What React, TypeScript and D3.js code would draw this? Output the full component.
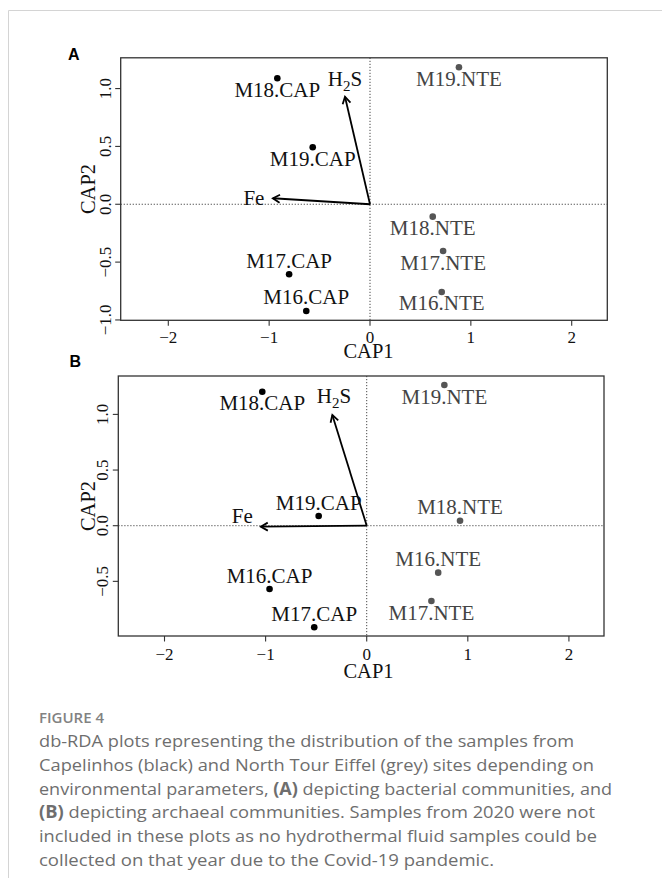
import React from "react";
import * as d3 from "d3";

// ---------- data ----------
const sampleNames = ["M16.CAP", "M17.CAP", "M18.CAP", "M19.CAP", "M16.NTE", "M17.NTE", "M18.NTE", "M19.NTE"];
const sampleSite = ["CAP", "CAP", "CAP", "CAP", "NTE", "NTE", "NTE", "NTE"];

// Panel A (bacterial)
const cap1A = [-0.632, -0.802, -0.919, -0.568, 0.711, 0.725, 0.622, 0.882];
const cap2A = [-0.922, -0.605, 1.089, 0.493, -0.758, -0.404, -0.107, 1.184];
const labelSideA = ["above", "above", "below", "below", "below", "below", "below", "below"];

// Panel B (archaeal)
const cap1B = [-0.961, -0.519, -1.033, -0.475, 0.707, 0.64, 0.923, 0.768];
const cap2B = [-0.569, -0.913, 1.204, 0.087, -0.422, -0.677, 0.045, 1.264];
const labelSideB = ["above", "above", "below", "above", "above", "below", "above", "below"];

// environmental vectors
const envNames = ["H2S", "Fe"];
const envCap1A = [-0.248, -0.963];
const envCap2A = [0.93, 0.052];
const envCap1B = [-0.34, -1.047];
const envCap2B = [0.995, -0.009];

// axes
const xTicks = [-2, -1, 0, 1, 2];
const yTicksA = [-1, -0.5, 0, 0.5, 1];
const yTicksB = [-0.5, 0, 0.5, 1];
const xLimA = [-2.472, 2.353];
const yLimA = [-1.003, 1.266];
const xLimB = [-2.457, 2.347];
const yLimB = [-0.991, 1.345];

const captionTitle = "FIGURE 4";
const captionLines = [
  [["db-RDA plots representing the distribution of the samples from", false]],
  [["Capelinhos (black) and North Tour Eiffel (grey) sites depending on", false]],
  [["environmental parameters, ", false], ["(A)", true], [" depicting bacterial communities, and", false]],
  [["(B)", true], [" depicting archaeal communities. Samples from 2020 were not", false]],
  [["included in these plots as no hydrothermal fluid samples could be", false]],
  [["collected on that year due to the Covid-19 pandemic.", false]],
] as [string, boolean][][];
const captionWidths = [535, 555, 573, 556, 558, 455];

const SERIF = "'Liberation Serif', 'Times New Roman', serif";
const SANS = "'Liberation Sans', Arial, sans-serif";

type PanelProps = {
  letter: string;
  letterPos: [number, number];
  box: { left: number; top: number; right: number; bottom: number };
  xLim: number[];
  yLim: number[];
  yTicks: number[];
  cap1: number[];
  cap2: number[];
  sides: string[];
  envX: number[];
  envY: number[];
  envDx: number[];
  envDy: number[];
  envAnchor: string[];
  tickBase: number;
  titleBase: number;
  cap2Center: number;
};

function Panel(p: PanelProps) {
  const { left, top, right, bottom } = p.box;
  const x = d3.scaleLinear().domain(p.xLim).range([left, right]);
  const y = d3.scaleLinear().domain(p.yLim).range([bottom, top]);
  const fx = d3.format("d");
  const fy = d3.format(".1f");
  const x0 = x(0);
  const y0 = y(0);
  return (
    <g>
      <text x={p.letterPos[0]} y={p.letterPos[1]} fontFamily={SANS} fontWeight="bold" fontSize={16} fill="#000">
        {p.letter}
      </text>
      {/* zero lines */}
      <line x1={left} x2={right} y1={y0} y2={y0} stroke="#333" strokeWidth={0.9} strokeDasharray="1.2 1.8" />
      <line x1={x0} x2={x0} y1={top} y2={bottom} stroke="#333" strokeWidth={0.9} strokeDasharray="1.2 1.8" />
      {/* box */}
      <rect x={left} y={top} width={right - left} height={bottom - top} fill="none" stroke="#333" strokeWidth={1.3} />
      {/* x axis */}
      {xTicks.map((t) => (
        <g key={"x" + t}>
          <line x1={x(t)} x2={x(t)} y1={bottom} y2={bottom + 5.5} stroke="#333" strokeWidth={1.1} />
          <text x={x(t)} y={bottom + p.tickBase} textAnchor="middle" fontFamily={SERIF} fontSize={17} fill="#111">
            {fx(t)}
          </text>
        </g>
      ))}
      <text x={368.5} y={bottom + p.titleBase} textAnchor="middle" fontFamily={SERIF} fontSize={20.5} fill="#111">
        CAP1
      </text>
      {/* y axis */}
      {p.yTicks.map((t) => (
        <g key={"y" + t}>
          <line x1={left - 5.5} x2={left} y1={y(t)} y2={y(t)} stroke="#333" strokeWidth={1.1} />
          <text
            transform={`translate(${left - 10},${y(t)}) rotate(-90)`}
            textAnchor="middle"
            fontFamily={SERIF}
            fontSize={17}
            fill="#111"
          >
            {fy(t)}
          </text>
        </g>
      ))}
      <text
        transform={`translate(95,${p.cap2Center}) rotate(-90)`}
        textAnchor="middle"
        fontFamily={SERIF}
        fontSize={20.5}
        fill="#111"
      >
        CAP2
      </text>
      {/* env arrows */}
      {envNames.map((n, i) => {
        const tx = x(p.envX[i]);
        const ty = y(p.envY[i]);
        const ang = Math.atan2(ty - y0, tx - x0);
        const hl = 8;
        const a1 = ang + Math.PI - Math.PI / 6;
        const a2 = ang + Math.PI + Math.PI / 6;
        return (
          <g key={n}>
            <line x1={x0} y1={y0} x2={tx} y2={ty} stroke="#000" strokeWidth={1.8} />
            <polyline
              points={`${tx + hl * Math.cos(a1)},${ty + hl * Math.sin(a1)} ${tx},${ty} ${tx + hl * Math.cos(a2)},${ty + hl * Math.sin(a2)}`}
              fill="none"
              stroke="#000"
              strokeWidth={1.8}
            />
            <text
              x={tx + p.envDx[i]}
              y={ty + p.envDy[i]}
              textAnchor={p.envAnchor[i]}
              fontFamily={SERIF}
              fontSize={21}
              fill="#111"
            >
              {n === "H2S" ? (
                <>
                  <tspan>H</tspan>
                  <tspan dy={5} fontSize={15}>2</tspan>
                  <tspan dy={-5}>S</tspan>
                </>
              ) : (
                n
              )}
            </text>
          </g>
        );
      })}
      {/* samples */}
      {sampleNames.map((n, i) => {
        const px = x(p.cap1[i]);
        const py = y(p.cap2[i]);
        const grey = sampleSite[i] === "NTE";
        return (
          <g key={n}>
            <circle cx={px} cy={py} r={3.3} fill={grey ? "#555" : "#000"} />
            <text
              x={px}
              y={p.sides[i] === "below" ? py + 18.5 : py - 6.5}
              textAnchor="middle"
              fontFamily={SERIF}
              fontSize={21}
              fill={grey ? "#444" : "#111"}
            >
              {n}
            </text>
          </g>
        );
      })}
    </g>
  );
}

export default function App() {
  const capTop = 722.7;
  return (
    <svg
      width={662}
      height={878}
      style={{ position: "absolute", left: 0, top: 0, background: "#fff" }}
      xmlns="http://www.w3.org/2000/svg"
    >
      <rect x={0} y={0} width={662} height={878} fill="#fff" />
      <line x1={8.5} x2={662} y1={10.5} y2={10.5} stroke="#d4d4d4" strokeWidth={1} />
      <line x1={8.5} x2={8.5} y1={10.5} y2={878} stroke="#d4d4d4" strokeWidth={1} />
      <Panel
        letter="A"
        letterPos={[68, 59.5]}
        box={{ left: 120.7, top: 57.8, right: 607.3, bottom: 320.3 }}
        xLim={xLimA}
        yLim={yLimA}
        yTicks={yTicksA}
        cap1={cap1A}
        cap2={cap2A}
        sides={labelSideA}
        envX={envCap1A}
        envY={envCap2A}
        envDx={[0, -8.5]}
        envDy={[-10.7, 6.7]}
        envAnchor={["middle", "end"]}
        tickBase={22.4}
        titleBase={37.4}
        cap2Center={189}
      />
      <Panel
        letter="B"
        letterPos={[69.5, 367]}
        box={{ left: 118.3, top: 376, right: 604, bottom: 636 }}
        xLim={xLimB}
        yLim={yLimB}
        yTicks={yTicksB}
        cap1={cap1B}
        cap2={cap2B}
        sides={labelSideB}
        envX={envCap1B}
        envY={envCap2B}
        envDx={[1.7, -8]}
        envDy={[-11.7, -4]}
        envAnchor={["middle", "end"]}
        tickBase={24}
        titleBase={41.5}
        cap2Center={506}
      />
      {/* caption */}
      <text x={39} y={capTop} fontFamily="'Open Sans', sans-serif" fontSize={15} fontWeight={600} fill="#828282">
        {captionTitle}
      </text>
      {captionLines.map((segs, li) => (
        <text
          key={li}
          x={39}
          y={capTop + 24 + li * 23.9}
          fontFamily="'Open Sans', sans-serif"
          fontSize={17}
          fill="#6e6e6e"
          textLength={captionWidths[li]}
          lengthAdjust="spacingAndGlyphs"
        >
          {segs.map(([s, b], si) => (
            <tspan key={si} fontWeight={b ? 700 : 400}>
              {s}
            </tspan>
          ))}
        </text>
      ))}
    </svg>
  );
}
